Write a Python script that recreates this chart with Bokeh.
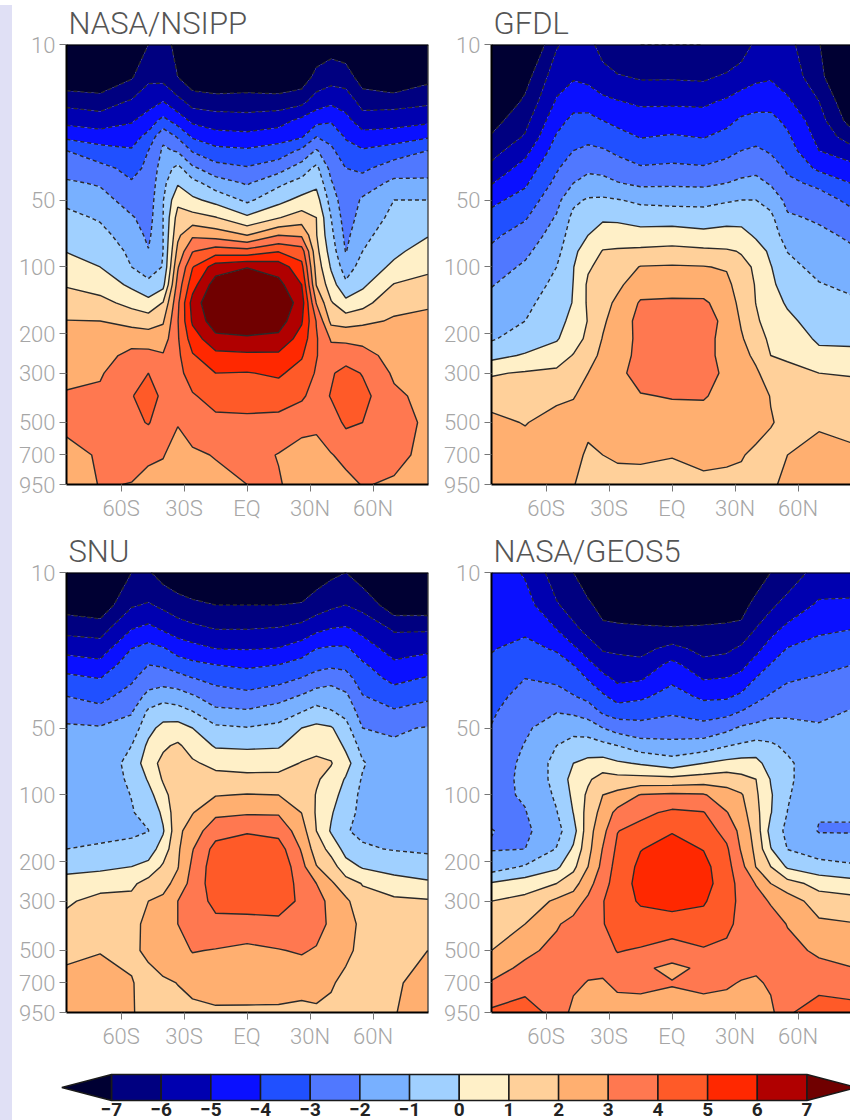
import numpy as np
from bokeh.embed import file_html
from bokeh.resources import INLINE
from bokeh.core.properties import value
from bokeh.layouts import column, row
from bokeh.models import FixedTicker, PrintfTickFormatter, Range1d, Spacer, Span
from bokeh.plotting import figure

LAT = [-86, -70, -55, -47, -40, -33, -26, -15, 0, 15, 26, 33, 40, 47, 55, 70, 86]
PRESS = [10, 14, 18, 22, 26, 30, 36, 42, 50, 60, 72, 85, 100, 120, 145, 175, 210, 250, 300, 380, 500, 700, 950]
PRESS_G5 = [10, 14, 18, 22, 26, 30, 36, 42, 50, 60, 72, 85, 100, 120, 145, 175, 210, 250, 300, 380, 500, 600, 700, 950]
LEVELS = [-7, -6, -5, -4, -3, -2, -1, 0, 1, 2, 3, 4, 5, 6, 7]
COLORS = ["#000033", "#000080", "#0000b0", "#0a10ff", "#2050ff", "#5078ff", "#78b0ff", "#a0d0ff",
          "#fff0c8", "#ffd09a", "#ffaf70", "#ff7850", "#ff5a28", "#ff2800", "#b00000", "#700000"]
Y_TICKS = [10, 50, 100, 200, 300, 500, 700, 950]
X_TICKS = [-60, -30, 0, 30, 60]
X_LABELS = ["60S", "30S", "EQ", "30N", "60N"]

# one inner list per latitude, top of the atmosphere first
NSIPP = [
 [-8.5,-7.8,-6.3,-5.3,-4.2,-3.0,-2.4,-1.85,-1.2,-0.75,-0.35,-0.03,0.4,0.92,1.5,2.03,2.25,2.5,2.75,3.1,3.2,2.7,2.4],
 [-9,-7.9,-6.5,-5.5,-4.5,-3.6,-2.7,-2.1,-1.6,-1.1,-0.7,-0.35,0,0.6,1.3,2,2.3,2.6,2.9,3.2,3.4,3.1,3.05],
 [-8.6,-7.1,-5.9,-5.1,-4.4,-3.9,-3.3,-2.9,-2.45,-1.9,-1.5,-1.2,-1,-0.2,0.7,1.7,2.6,3.3,3.7,3.95,3.8,3.2,2.98],
 [-7.0,-6.2,-5.4,-4.5,-3.7,-3,-2.8,-2.7,-2.55,-2.4,-2.2,-1.95,-1.45,-0.75,0.35,1.55,2.55,3.3,4,4.4,4.05,3.2,2.6],
 [-6.5,-6.3,-5,-3.7,-2.2,-1.85,-1.5,-1.25,-1.05,-1,-1,-1,-0.95,-0.3,1.05,1.9,2.5,3.1,3.6,3.8,3.6,3.05,2.6],
 [-7.4,-7,-5.7,-4.4,-3.1,-2.1,-0.7,-0.1,0.75,1.4,1.8,2.3,2.9,3.4,3.8,3.95,3.9,3.8,3.7,3.4,3.05,2.6,2.4],
 [-8,-7.7,-6.4,-5.2,-4.1,-3.1,-1.8,-0.65,0.2,1.4,2.85,3.95,4.95,5.6,6.4,6.15,5.5,4.9,4.45,3.9,3.4,2.85,2.5],
 [-8.5,-8,-6.5,-5.5,-4.6,-3.7,-2.6,-1.5,-0.3,1.05,2.6,4.55,6.5,7.5,8,7.6,6.7,5.7,5,4.4,3.7,3.05,2.7],
 [-8.8,-7.8,-6.5,-5.6,-4.7,-3.85,-2.9,-2.1,-1.2,0.2,2,4.4,6.95,8,8.4,7.9,6.8,5.8,4.95,4.35,3.8,3.4,3],
 [-8.8,-8,-6.5,-5.4,-4.4,-3.55,-2.4,-1.2,-0.3,0.95,3,4.95,6.6,7.3,7.9,7.5,6.7,5.8,5.15,4.4,3.7,2.95,3.1],
 [-8,-7.6,-6.3,-4.7,-4.1,-2.8,-1.5,-0.65,0.3,1.5,2.85,4.5,5.3,6,6.5,6.1,5.6,5.1,4.6,4.15,3.3,2.6,2.5],
 [-7.6,-6.7,-5.5,-4.3,-3,-1.9,-0.75,-0.2,0.4,1,1.05,1.3,1.6,1.95,2.95,3.95,4.1,4.05,3.9,3.6,3.15,2.7,2.6],
 [-7.4,-6.4,-5.2,-4.1,-3.3,-2.8,-2.3,-1.9,-1.4,-1,-0.75,-0.45,-0.1,0.45,1.1,1.75,2.9,3.4,3.9,4.05,3.6,2.95,2.6],
 [-7.6,-6.5,-5.4,-4.7,-4.1,-3.6,-3,-2.85,-2.7,-2.5,-2.25,-2.05,-1.5,-0.8,0.3,1.6,2.8,3.6,4.3,4.6,4.15,3.25,2.7],
 [-8.4,-7.5,-6.4,-5.5,-4.6,-3.9,-3.2,-2.55,-1.85,-1.6,-1.3,-1,-0.6,-0.2,0.65,1.8,2.7,3.4,3.95,4.3,4,3.4,3.05],
 [-9,-8,-6.4,-5.4,-4.5,-3.5,-2.5,-1.75,-1,-0.75,-0.4,-0.2,0.2,1.05,1.75,2.1,2.4,2.6,2.85,3.2,3.35,3.2,2.9],
 [-8.5,-7.3,-6.2,-5.2,-4.1,-3,-2.35,-1.8,-1,-0.5,-0.05,0.4,0.8,1.3,1.95,2.1,2.2,2.3,2.5,2.7,2.85,2.8,2.6],
]
GFDL = [
 [-10,-9,-8.2,-7.4,-6.9,-6.4,-5.7,-5.05,-4.25,-3.65,-3.2,-2.8,-2.45,-2.05,-1.7,-1.4,-1.1,-0.3,0.9,1.65,2.25,2.5,2.6],
 [-8.5,-7.4,-6.8,-6.3,-5.9,-5.3,-4.6,-4.15,-3.6,-3.1,-2.55,-2.2,-1.85,-1.55,-1.25,-1,-0.55,0.1,1.1,1.5,1.95,2.5,2.6],
 [-6.1,-5.4,-4.9,-4.35,-3.9,-3.55,-3.1,-2.75,-2.3,-1.9,-1.6,-1.3,-1,-0.75,-0.5,-0.3,-0.1,0.55,1.2,1.8,2.4,2.7,2.8],
 [-5.6,-5.1,-4.35,-3.75,-3.4,-3,-2.5,-2,-1.2,-0.75,-0.45,-0.2,-0.03,0.02,0.05,0.25,0.6,1.05,1.5,1.95,2.4,2.3,2.05],
 [-5.6,-5.25,-4.4,-3.7,-3.25,-2.8,-2.2,-1.6,-0.9,-0.45,0,0.45,0.9,1.15,1.15,1.05,1.2,1.5,2,2.3,2.2,1.85,1.6],
 [-6.5,-5.5,-4.8,-4,-3.45,-2.9,-2.3,-1.65,-0.85,-0.15,0.5,1.05,1.25,1.45,1.65,1.85,2.05,2.3,2.45,2.55,2.35,2,1.7],
 [-6.8,-5.9,-4.95,-4.25,-3.65,-3.2,-2.5,-1.95,-0.95,-0.2,0.55,1.1,1.45,1.8,2.2,2.45,2.6,2.7,2.8,2.75,2.45,2.1,1.7],
 [-7,-6.1,-5.2,-4.45,-4.05,-3.5,-2.9,-2.2,-1.2,-0.4,0.4,1.2,2.05,2.55,3.1,3.3,3.2,3.2,3.3,2.95,2.55,2.1,1.75],
 [-7,-6.1,-5.15,-4.5,-3.9,-3.45,-2.8,-2.15,-1.3,-0.4,0.45,1.3,2.1,2.6,3.15,3.5,3.55,3.5,3.5,3.05,2.6,2.02,1.8],
 [-7,-6.15,-5.2,-4.5,-4.05,-3.5,-2.9,-2.2,-1.3,-0.5,0.3,1.2,2.05,2.55,3.15,3.4,3.2,3.15,3.3,3.05,2.7,2.2,1.8],
 [-6.8,-5.85,-4.85,-4.25,-3.7,-3.3,-2.6,-2,-1.1,-0.35,0.4,1.1,1.9,2.3,2.55,2.75,2.8,2.85,2.85,2.8,2.55,2.15,1.75],
 [-6.5,-5.5,-4.5,-3.85,-3.4,-3,-2.35,-1.8,-1,-0.35,0.35,0.95,1.2,1.4,1.7,1.9,2.1,2.3,2.5,2.6,2.4,2.05,1.8],
 [-5.8,-5.2,-4.35,-3.7,-3.3,-2.85,-2.25,-1.7,-1,-0.6,-0.15,0.5,0.9,0.95,0.98,1.15,1.45,1.8,2.15,2.35,2.25,1.85,1.6],
 [-5.5,-5.1,-4.3,-3.75,-3.4,-3.1,-2.55,-2.1,-1.3,-0.8,-0.5,-0.2,0.05,0.2,0.35,0.55,0.8,1,1.5,1.97,2.05,1.7,1.8],
 [-5.7,-5.4,-4.85,-4.2,-3.85,-3.55,-3.15,-2.8,-2.3,-1.85,-1.45,-1.02,-0.75,-0.45,-0.1,0.2,0.55,0.9,1.2,1.55,1.8,2,2.3],
 [-6.9,-6.6,-6,-5.6,-5.3,-5,-4.2,-3.2,-2.6,-2.15,-1.75,-1.5,-1.25,-0.95,-0.65,-0.4,-0.15,0.25,1,1.45,1.9,2.3,2.5],
 [-10,-9,-8,-7.5,-6.6,-5.65,-4.65,-4.05,-3.25,-2.7,-2.2,-1.85,-1.55,-1.2,-0.85,-0.5,-0.2,0.25,0.95,1.3,1.7,2.2,2.5],
]
SNU = [
 [-8.5,-7.4,-6.3,-5.3,-4.5,-3.7,-3,-2.4,-1.85,-1.7,-1.55,-1.45,-1.35,-1.2,-1.1,-1,-0.3,0.4,0.85,1.35,1.8,2.3,2.4],
 [-8.5,-7.7,-6.4,-5.5,-4.7,-4,-3.3,-2.7,-1.9,-1.75,-1.6,-1.5,-1.4,-1.25,-1.1,-0.95,-0.2,0.6,1.35,1.65,1.97,2.3,2.4],
 [-7,-6.1,-5,-4,-3.4,-3.15,-2.6,-2.1,-1.6,-1,-0.7,-0.85,-0.98,-1.05,-1.03,-0.95,0,0.8,1.3,1.6,1.85,2.05,2.1],
 [-6.9,-5.9,-4.7,-3.65,-3,-2.5,-1.7,-0.85,-0.3,0.2,0.6,0.1,-0.35,-0.75,-1.02,-0.5,0.3,1.4,2,2.35,2.15,1.7,1.55],
 [-7.4,-6.2,-5.1,-3.9,-3.1,-2.5,-1.35,-0.5,0.3,0.85,1.25,1.1,0.65,0.2,-0.1,0.45,1.15,1.7,2.2,2.6,2.5,1.85,1.6],
 [-7.7,-6.55,-5.45,-4.4,-3.5,-2.6,-1.55,-0.6,0.4,1.15,1.45,1.55,1.65,1.7,1.75,1.85,1.95,2.3,3,3,2.65,2.02,1.7],
 [-7.8,-6.8,-5.7,-4.65,-3.75,-2.95,-1.9,-1,0,0.6,1.15,1.45,1.65,1.95,2.5,2.95,3.2,3.4,3.4,3.25,3.05,2.2,1.8],
 [-8.2,-7,-6,-5,-4,-3.3,-2.5,-1.8,-0.8,-0.1,0.7,1.4,1.95,2.8,3.6,4.35,4.55,4.5,4.3,3.7,2.95,2.4,1.85],
 [-8.5,-7,-6,-5.05,-4.15,-3.55,-2.7,-1.9,-0.95,-0.15,0.6,1.3,2.05,2.9,3.9,4.6,4.9,4.95,4.6,3.5,2.8,2.25,1.9],
 [-8.3,-7,-5.9,-4.95,-4,-3.3,-2.4,-1.5,-0.75,-0.1,0.65,1.3,2,2.9,3.7,4.45,4.8,4.75,4.5,3.7,2.95,2.35,1.85],
 [-8,-6.9,-5.6,-4.5,-3.6,-2.95,-1.9,-1.05,0,0.55,1.05,1.35,1.65,1.98,2.45,2.9,3.3,3.6,3.8,3.55,3.1,2.25,1.8],
 [-7.5,-6.5,-5.2,-4,-3.3,-2.6,-1.45,-0.7,0.25,0.8,1.15,1.1,0.95,0.9,1,1.5,2.05,3,3.55,3.4,2.9,2.4,1.8],
 [-7.2,-6.2,-4.95,-3.85,-3.2,-2.3,-1.5,-0.95,0.1,0.7,1.05,0.7,0.4,0.1,-0.1,0.7,1.45,2.15,2.6,2.8,2.6,2.1,1.75],
 [-7,-6,-4.85,-3.85,-3.25,-2.6,-1.8,-1.3,-0.65,-0.2,0.4,-0.1,-0.4,-0.65,-0.95,-0.35,0.4,1.45,2.2,2.5,2.2,1.75,1.6],
 [-7.5,-6.3,-5.25,-4.5,-3.85,-3.5,-2.95,-2.5,-2,-1.35,-0.9,-1.1,-1.25,-1.25,-1.15,-0.9,-0.1,0.95,1.35,1.7,1.75,1.6,1.55],
 [-8.5,-7.6,-6.1,-5.4,-4.8,-4.25,-3.5,-2.9,-2.1,-1.9,-1.8,-1.7,-1.6,-1.45,-1.25,-1.05,-0.4,0.45,1.2,1.5,1.7,1.85,1.95],
 [-8.5,-7.6,-6.1,-5.2,-4.5,-3.9,-3.2,-2.55,-1.95,-1.85,-1.75,-1.65,-1.55,-1.4,-1.25,-1.1,-0.7,0.2,1.1,1.5,2,2.4,2.5],
]
GEOS5 = [
 [-4.4,-4.3,-4.15,-4.05,-3.85,-3.65,-3.4,-3.15,-2.95,-2.75,-2.55,-2.4,-2.25,-2.15,-1.98,-2.05,-1.5,0.1,1,1.5,2,2.55,3.1,4.2],
 [-5.1,-4.6,-4.15,-3.75,-3.4,-3,-2.6,-2.35,-2.15,-1.95,-1.8,-1.8,-1.9,-2.05,-2.2,-2,-0.9,0.55,1.3,2,2.75,3.25,3.7,4.4],
 [-6.5,-5.9,-5,-4.1,-3.6,-3.2,-2.6,-2.05,-1.5,-1,-0.7,-0.7,-0.85,-1.05,-1.3,-0.95,-0.2,1,2.2,2.9,3.3,3.45,3.6,3.7],
 [-7,-6.45,-5.75,-4.8,-4,-3.5,-2.95,-2.2,-1.3,-0.65,0,0.35,0.2,0.02,-0.4,0.15,0.75,1.6,2.55,3.3,3.6,3.45,3.2,2.7],
 [-7.5,-6.85,-6.3,-5.5,-4.7,-4.05,-3.3,-2.45,-1.5,-0.5,0.25,0.85,1.2,1.4,1.6,1.7,2,2.65,3.2,3.6,3.5,3.2,2.95,2.5],
 [-7.7,-7.3,-6.8,-6.1,-5.4,-4.7,-3.85,-3.2,-2,-0.7,0.4,1.45,2,2.35,2.7,3.05,3.3,3.6,3.95,3.95,3.6,3.2,2.9,2.5],
 [-8,-7.5,-6.8,-6.2,-5.6,-5.2,-4.4,-3.5,-2.4,-1,0.15,1.35,2.3,3.3,3.97,4.2,4.4,4.5,4.6,4.4,4.05,3.6,3.2,2.5],
 [-8.2,-7.6,-6.85,-6.3,-5.7,-5.1,-4.2,-3.4,-2.65,-1.5,-0.1,1.35,3.05,3.75,4.35,4.97,5.2,5.3,5.1,4.6,3.9,3.15,3.2,2.6],
 [-8.5,-7.7,-6.9,-5.7,-4.7,-4.2,-3.6,-3.15,-2.5,-1.7,-0.5,1.3,3.2,4.2,4.95,5.3,5.5,5.55,5.3,4.6,3.45,2.8,3.05,2.6],
 [-8.4,-7.6,-6.85,-6.3,-5.7,-5.05,-4.2,-3.45,-2.65,-1.5,0,1.5,3.1,4.05,4.45,4.97,5.3,5.35,5.1,4.6,3.9,3.15,3.2,2.6],
 [-8.2,-7.5,-6.8,-6.2,-5.5,-4.95,-4.15,-3.35,-2.25,-1.05,0.3,1.6,2.4,3.05,3.7,4.15,4.35,4.5,4.4,4.25,3.75,3.35,3.1,2.6],
 [-7.9,-7.35,-6.75,-5.8,-5.25,-4.7,-3.8,-3,-1.85,-0.85,0.4,1.3,2.1,2.4,2.7,2.9,3.3,3.6,3.75,3.7,3.5,3.2,2.95,2.5],
 [-7.5,-6.7,-5.95,-5.25,-4.6,-3.95,-3.3,-2.6,-1.7,-0.65,0.35,1,1.15,1.3,1.55,1.75,1.97,2.95,3.4,3.7,3.45,3.15,2.85,2.4],
 [-7,-6.2,-5.3,-4.6,-3.95,-3.5,-2.9,-2.3,-1.55,-0.85,-0.5,-0.05,0.1,0.05,-0.35,0.05,1,2,2.9,3.5,3.5,3.3,3.15,2.75],
 [-6.6,-5.6,-4.75,-3.95,-3.5,-3.1,-2.65,-2.2,-1.7,-1.2,-0.8,-0.8,-0.9,-1.02,-1.25,-1.02,-0.15,1.4,2.55,2.95,3.35,3.55,3.65,3.9],
 [-5.6,-4.85,-4.15,-3.65,-3.25,-2.9,-2.5,-2.2,-1.9,-1.8,-1.75,-1.75,-1.85,-1.95,-2.05,-1.5,-0.6,0.65,1.5,2.2,2.8,3.3,3.75,4.4],
 [-5.6,-4.8,-4,-3.4,-3,-2.7,-2.25,-1.95,-1.85,-1.8,-1.8,-1.8,-1.85,-1.95,-2.05,-1.6,-0.85,0.4,1.35,2.05,2.6,3.02,3.65,4.3],
]

FONT = "Roboto Light, Roboto"
STRIP = "#e0e0f5"
FILL_LEVELS = [-20] + LEVELS + [20]
DASHED = [v for v in LEVELS if v < 0]
SOLID = [v for v in LEVELS if v >= 0]


def panel(name, cols, press, width, height, left, top, bottom, xend, closed):
    z = np.array(cols, dtype=float).T
    p = figure(title=name, width=width, height=height, y_axis_type="log", output_backend="svg",
               toolbar_location=None, x_range=Range1d(-86, xend), y_range=Range1d(950, 10),
               min_border_left=left, min_border_top=top, min_border_bottom=bottom,
               min_border_right=12 if closed else 0)
    p.grid.visible = False
    p.outline_line_color = None
    p.title.text_font = FONT
    p.title.text_font_size = "31px"
    p.title.text_font_style = "normal"
    p.title.text_color = "#555555"
    p.title.offset = 2
    p.title.standoff = 5
    p.contour(LAT, press, z, FILL_LEVELS, fill_color=COLORS)
    p.contour(LAT, press, z, SOLID, line_color="#2a2a2a", line_width=1.4)
    dash = p.contour(LAT, press, z, DASHED, line_color="#2a2a2a", line_width=1.4)
    dash.line_renderer.glyph.line_dash = [4, 3]

    p.xaxis.ticker = FixedTicker(ticks=X_TICKS)
    p.xaxis.major_label_overrides = dict(zip(X_TICKS, X_LABELS))
    p.yaxis.ticker = FixedTicker(ticks=Y_TICKS)
    p.yaxis.formatter = PrintfTickFormatter(format="%d")
    for ax in (p.xaxis[0], p.yaxis[0]):
        ax.major_label_text_font = FONT
        ax.major_label_text_font_size = "22px"
        ax.major_label_text_color = "#a6a6a6"
        ax.major_tick_out = 7
        ax.major_tick_in = 0
        ax.minor_tick_out = 0
        ax.minor_tick_in = 0
        ax.major_tick_line_color = "#777777"
        ax.axis_line_color = "black"
        ax.axis_line_width = 2
        ax.major_label_standoff = 4
    p.add_layout(Span(location=10, dimension="width", line_color="black", line_width=2))
    if closed:
        p.add_layout(Span(location=xend, dimension="height", line_color="black", line_width=2))
    return p


p1 = panel("NASA/NSIPP", NSIPP, PRESS, 428, 528, 54, 44, 44, 86.4, True)
p2 = panel("GFDL", GFDL, PRESS, 410, 528, 51, 44, 44, 85, False)
p3 = panel("SNU", SNU, PRESS, 428, 528, 54, 44, 44, 86.4, True)
p4 = panel("NASA/GEOS5", GEOS5, PRESS_G5, 410, 528, 51, 44, 44, 85, False)

cb = figure(width=838, height=64, output_backend="svg", toolbar_location=None,
            x_range=Range1d(-8.993, 7.876), y_range=Range1d(-0.769, 1.692),
            min_border=0, min_border_left=0, min_border_right=0, min_border_top=0, min_border_bottom=0)
cb.axis.visible = False
cb.grid.visible = False
cb.outline_line_color = None
cb.quad(left=LEVELS[:-1], right=LEVELS[1:], bottom=0, top=1, fill_color=COLORS[1:-1],
        line_color="#1a1a1a", line_width=1.5)
cb.patch([LEVELS[0], LEVELS[0], LEVELS[0] - 1], [0, 1, 0.5], fill_color=COLORS[0],
         line_color="#1a1a1a", line_width=1.5)
cb.patch([LEVELS[-1], LEVELS[-1], LEVELS[-1] + 1], [0, 1, 0.5], fill_color=COLORS[-1],
         line_color="#1a1a1a", line_width=1.5)
cb.text(x=LEVELS, y=[-0.1] * len(LEVELS), text=[str(v).replace("-", "\u2212") for v in LEVELS],
        text_font=value("Roboto"), text_font_style="bold", text_font_size="19px", text_color="#222222",
        text_align="center", text_baseline="top")

strip = Spacer(width=12, height=1115, margin=(5, 0, 0, 0), styles={"background-color": STRIP})
layout = row(strip, column(row(p1, p2, spacing=0), row(p3, p4, spacing=0), cb, spacing=0), spacing=0)

open("out.html", "w").write(file_html(layout, INLINE))
